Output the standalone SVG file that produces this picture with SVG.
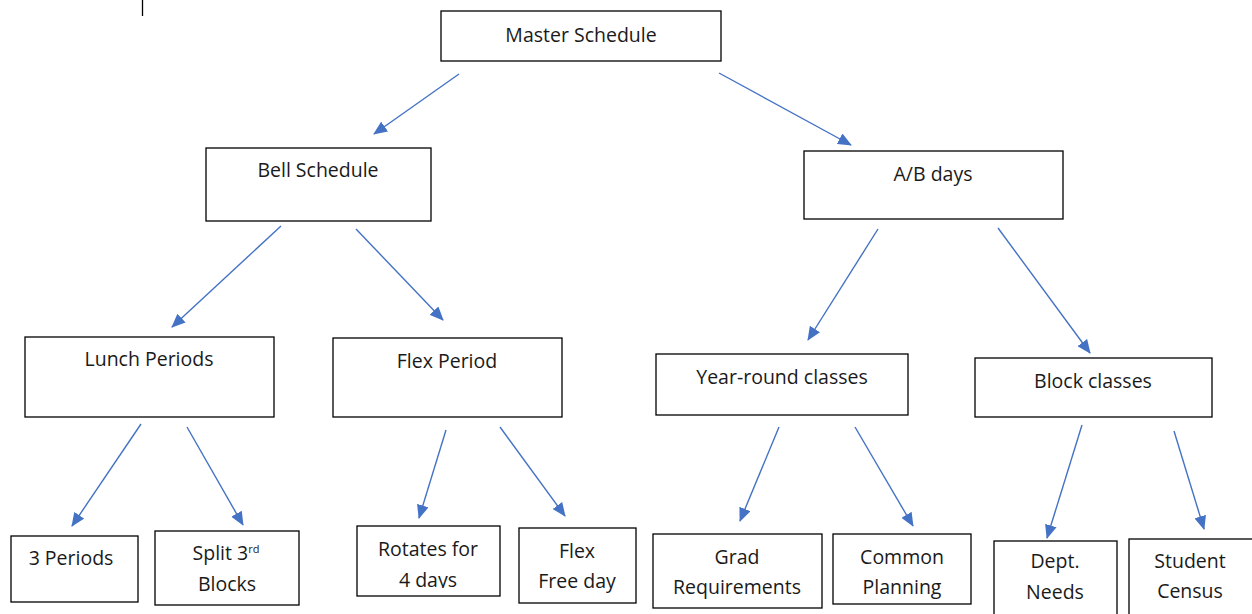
<svg xmlns="http://www.w3.org/2000/svg" width="1252" height="614" viewBox="0 0 1252 614">
<style>
.box{fill:#fff;stroke:#000;stroke-width:1.3}
.t{font-family:"Open Sans","Liberation Sans",sans-serif;font-size:19.5px;fill:#1a1a1a;text-anchor:middle}
.c line{stroke:#4472C4;stroke-width:1.4;marker-end:url(#ah)}
</style>
<defs>
<marker id="ah" markerUnits="userSpaceOnUse" markerWidth="14" markerHeight="12" refX="13" refY="6" orient="auto">
<path d="M0,0 L14,6 L0,12 z" fill="#4472C4"/>
</marker>
<clipPath id="cpRot"><rect x="357" y="526" width="143" height="62"/></clipPath>
<clipPath id="cpCom"><rect x="833" y="534" width="138" height="69"/></clipPath>
</defs>
<rect width="1252" height="614" fill="#fff"/>
<line x1="142.5" y1="0" x2="142.5" y2="16" stroke="#000" stroke-width="1.3"/>
<g class="c">
<line x1="459" y1="74" x2="374" y2="134"/>
<line x1="719" y1="73" x2="851" y2="145"/>
<line x1="281" y1="226" x2="172" y2="327"/>
<line x1="356" y1="229" x2="443" y2="320"/>
<line x1="878" y1="229" x2="808" y2="340"/>
<line x1="998" y1="228" x2="1090" y2="353"/>
<line x1="141" y1="424" x2="72" y2="526"/>
<line x1="187" y1="427" x2="243" y2="525"/>
<line x1="446" y1="430" x2="419" y2="518"/>
<line x1="500" y1="427" x2="565" y2="516"/>
<line x1="779" y1="427" x2="740" y2="521"/>
<line x1="855" y1="427" x2="913" y2="526"/>
<line x1="1082" y1="425" x2="1047" y2="538"/>
<line x1="1174" y1="431" x2="1204" y2="529"/>
</g>
<g id="master"><rect class="box" x="441" y="11" width="280" height="50"/><text class="t" x="581" y="42">Master Schedule</text></g>
<g id="bell"><rect class="box" x="206" y="148" width="225" height="73"/><text class="t" x="318" y="177">Bell Schedule</text></g>
<g id="ab"><rect class="box" x="804" y="151" width="259" height="68"/><text class="t" x="933" y="181">A/B days</text></g>
<g id="lunch"><rect class="box" x="25" y="337" width="249" height="80"/><text class="t" x="149" y="366">Lunch Periods</text></g>
<g id="flex"><rect class="box" x="333" y="338" width="229" height="79"/><text class="t" x="447" y="368">Flex Period</text></g>
<g id="year"><rect class="box" x="656" y="354" width="252" height="61"/><text class="t" x="782" y="384">Year-round classes</text></g>
<g id="block"><rect class="box" x="975" y="358" width="237" height="59"/><text class="t" x="1093" y="388">Block classes</text></g>
<g id="p3"><rect class="box" x="11" y="536" width="127" height="66"/><text class="t" x="71" y="565">3 Periods</text></g>
<g id="split"><rect class="box" x="155" y="531" width="144" height="74"/><text class="t" x="226" y="560">Split 3<tspan dy="-7" font-size="11">rd</tspan></text><text class="t" x="227" y="591">Blocks</text></g>
<g id="rot"><rect class="box" x="357" y="526" width="143" height="70"/><g clip-path="url(#cpRot)"><text class="t" x="428" y="556">Rotates for</text><text class="t" x="428" y="587">4 days</text></g></g>
<g id="free"><rect class="box" x="519" y="528" width="117" height="75"/><text class="t" x="577" y="558">Flex</text><text class="t" x="577" y="588">Free day</text></g>
<g id="grad"><rect class="box" x="653" y="534" width="169" height="74"/><text class="t" x="737" y="564">Grad</text><text class="t" x="737" y="594">Requirements</text></g>
<g id="common"><rect class="box" x="833" y="534" width="138" height="70"/><g clip-path="url(#cpCom)"><text class="t" x="902" y="564">Common</text><text class="t" x="902" y="594">Planning</text></g></g>
<g id="dept"><rect class="box" x="994" y="541" width="123" height="80"/><text class="t" x="1055" y="568">Dept.</text><text class="t" x="1055" y="599">Needs</text></g>
<g id="census"><rect class="box" x="1129" y="539" width="130" height="80"/><text class="t" x="1190" y="568">Student</text><text class="t" x="1190" y="598">Census</text></g>
</svg>
